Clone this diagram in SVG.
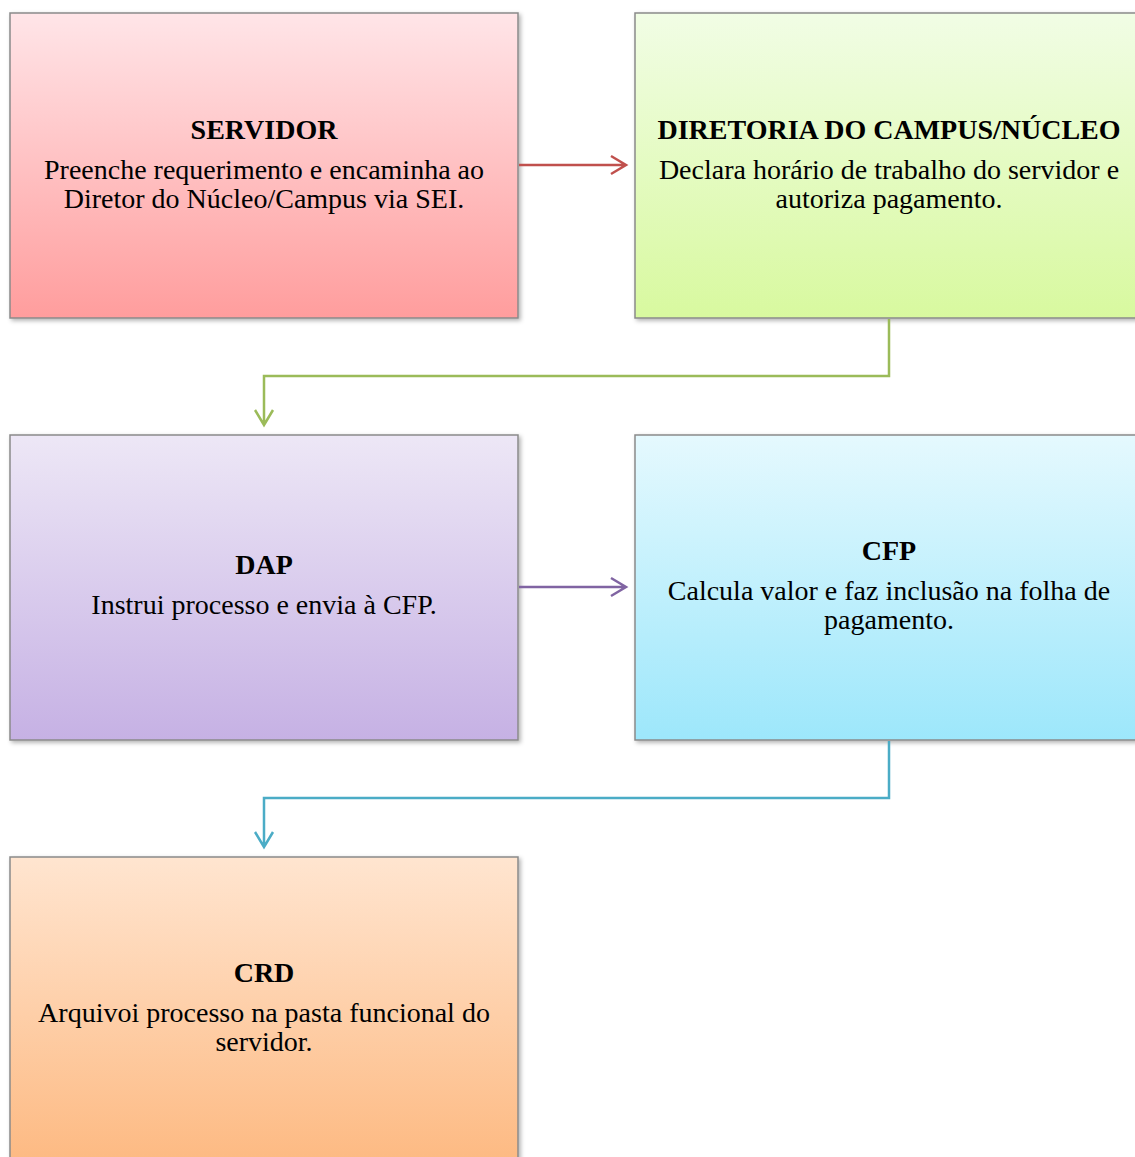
<svg xmlns="http://www.w3.org/2000/svg" width="1135" height="1157" viewBox="0 0 1135 1157">
<style>
.box{stroke:#8a8a8a;stroke-width:1.5}
.t{font-family:"Liberation Serif","Times New Roman",serif;font-size:28px;fill:#000;text-anchor:middle}
.b{font-weight:bold}
.c{fill:none;stroke-width:2.5}
</style>
<defs>
<linearGradient id="gR" x1="0" y1="0" x2="0" y2="1"><stop offset="0" stop-color="#ffe5e8"/><stop offset="1" stop-color="#ff9d9d"/></linearGradient>
<linearGradient id="gG" x1="0" y1="0" x2="0" y2="1"><stop offset="0" stop-color="#f1fde5"/><stop offset="1" stop-color="#d8f99f"/></linearGradient>
<linearGradient id="gP" x1="0" y1="0" x2="0" y2="1"><stop offset="0" stop-color="#ede7f6"/><stop offset="1" stop-color="#c6b1e4"/></linearGradient>
<linearGradient id="gB" x1="0" y1="0" x2="0" y2="1"><stop offset="0" stop-color="#e5f9fe"/><stop offset="1" stop-color="#9de7fb"/></linearGradient>
<linearGradient id="gO" x1="0" y1="0" x2="0" y2="1"><stop offset="0" stop-color="#ffe5d0"/><stop offset="1" stop-color="#fdb981"/></linearGradient>
<filter id="sh" x="-5%" y="-5%" width="110%" height="110%"><feDropShadow dx="2" dy="2" stdDeviation="2" flood-color="#000" flood-opacity="0.3"/></filter>
</defs>
<g id="servidor">
<rect class="box" x="10" y="13" width="508" height="305" fill="url(#gR)" filter="url(#sh)"/>
<text class="t b" x="264" y="139">SERVIDOR</text>
<text class="t" x="264" y="179">Preenche requerimento e encaminha ao</text>
<text class="t" x="264" y="208">Diretor do Núcleo/Campus via SEI.</text>
</g>
<g id="diretoria">
<rect class="box" x="635" y="13" width="510" height="305" fill="url(#gG)" filter="url(#sh)"/>
<text class="t b" x="889" y="139">DIRETORIA DO CAMPUS/NÚCLEO</text>
<text class="t" x="889" y="179">Declara horário de trabalho do servidor e</text>
<text class="t" x="889" y="208">autoriza pagamento.</text>
</g>
<g id="dap">
<rect class="box" x="10" y="435" width="508" height="305" fill="url(#gP)" filter="url(#sh)"/>
<text class="t b" x="264" y="574">DAP</text>
<text class="t" x="264" y="614">Instrui processo e envia à CFP.</text>
</g>
<g id="cfp">
<rect class="box" x="635" y="435" width="510" height="305" fill="url(#gB)" filter="url(#sh)"/>
<text class="t b" x="889" y="560">CFP</text>
<text class="t" x="889" y="600">Calcula valor e faz inclusão na folha de</text>
<text class="t" x="889" y="629">pagamento.</text>
</g>
<g id="crd">
<rect class="box" x="10" y="857" width="508" height="310" fill="url(#gO)" filter="url(#sh)"/>
<text class="t b" x="264" y="982">CRD</text>
<text class="t" x="264" y="1022">Arquivoi processo na pasta funcional do</text>
<text class="t" x="264" y="1051">servidor.</text>
</g>
<g id="connectors">
<path class="c" stroke="#c0504d" d="M519 165H626M611 156L626 165L611 174"/>
<path class="c" stroke="#9bbb59" d="M889 319V376H264V425M255 410L264 425L273 410"/>
<path class="c" stroke="#8064a2" d="M519 587H626M611 578L626 587L611 596"/>
<path class="c" stroke="#4bacc6" d="M889 741V798H264V847M255 832L264 847L273 832"/>
</g>
</svg>
